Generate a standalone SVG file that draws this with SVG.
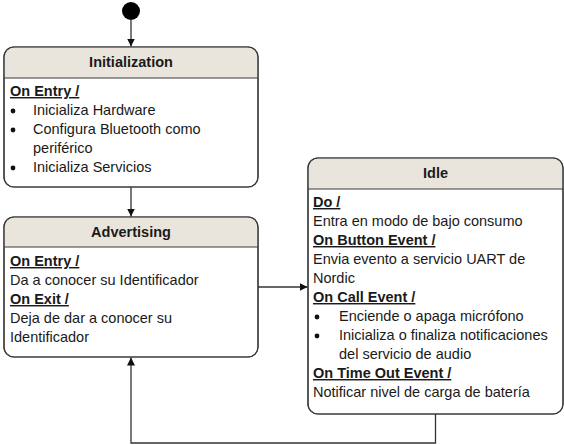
<svg xmlns="http://www.w3.org/2000/svg" width="564" height="445" viewBox="0 0 564 445">
<defs>
<style>
.box{fill:#ffffff;stroke:#3a3a3a;stroke-width:1.2}
.hdr{fill:#EAE5DC;stroke:none}
.sep{stroke:#3a3a3a;stroke-width:1.2}
.t{font-family:"Liberation Sans",Arial,sans-serif;font-size:14.5px;fill:#1a1a1a}
.b{font-weight:bold}
.u{font-weight:bold;text-decoration:underline}
.ttl{font-family:"Liberation Sans",Arial,sans-serif;font-size:14.5px;font-weight:bold;fill:#1a1a1a;text-anchor:middle}
.bul{fill:#111}
.conn{fill:none;stroke:#333;stroke-width:1.3}
</style>
<marker id="arr" viewBox="0 0 10 10" refX="10" refY="5" markerWidth="8" markerHeight="8" markerUnits="userSpaceOnUse" orient="auto">
<path d="M0,0 L10,5 L0,10 Z" fill="#111"/>
</marker>
</defs>

<g id="initial">
<circle cx="131" cy="11" r="9" fill="#000"/>
</g>

<g id="initialization">
<rect class="box" x="4" y="47" width="254" height="140" rx="10"/>
<path class="hdr" d="M4.6,78 V57 A10,10 0 0 1 14,47.6 H248 A10,10 0 0 1 257.4,57 V78 Z"/>
<line class="sep" x1="4" y1="78" x2="258" y2="78"/>
<rect x="4" y="47" width="254" height="140" rx="10" fill="none" stroke="#3a3a3a" stroke-width="1.2"/>
<text class="ttl" x="131" y="67">Initialization</text>
<text class="t u" x="10" y="96">On Entry /</text>
<circle class="bul" cx="13" cy="111" r="2.4"/>
<text class="t" x="33" y="115">Inicializa Hardware</text>
<circle class="bul" cx="13" cy="130" r="2.4"/>
<text class="t" x="33" y="134">Configura Bluetooth como</text>
<text class="t" x="33" y="153">periférico</text>
<circle class="bul" cx="13" cy="168" r="2.4"/>
<text class="t" x="33" y="172">Inicializa Servicios</text>
</g>

<g id="advertising">
<rect class="box" x="4" y="217" width="254" height="140" rx="10"/>
<path class="hdr" d="M4.6,247 V227 A10,10 0 0 1 14,217.6 H248 A10,10 0 0 1 257.4,227 V247 Z"/>
<line class="sep" x1="4" y1="247" x2="258" y2="247"/>
<rect x="4" y="217" width="254" height="140" rx="10" fill="none" stroke="#3a3a3a" stroke-width="1.2"/>
<text class="ttl" x="131" y="236.5">Advertising</text>
<text class="t u" x="10" y="266">On Entry /</text>
<text class="t" x="10" y="285">Da a conocer su Identificador</text>
<text class="t u" x="10" y="304">On Exit /</text>
<text class="t" x="10" y="323">Deja de dar a conocer su</text>
<text class="t" x="10" y="342">Identificador</text>
</g>

<g id="idle">
<rect class="box" x="308" y="158" width="255" height="256" rx="10"/>
<path class="hdr" d="M308.6,189 V168 A10,10 0 0 1 318,158.6 H553 A10,10 0 0 1 562.4,168 V189 Z"/>
<line class="sep" x1="308" y1="189" x2="563" y2="189"/>
<rect x="308" y="158" width="255" height="256" rx="10" fill="none" stroke="#3a3a3a" stroke-width="1.2"/>
<text class="ttl" x="435.5" y="178">Idle</text>
<text class="t u" x="313" y="207">Do /</text>
<text class="t" x="313" y="226">Entra en modo de bajo consumo</text>
<text class="t u" x="313" y="245">On Button Event /</text>
<text class="t" x="313" y="264">Envia evento a servicio UART de</text>
<text class="t" x="313" y="283">Nordic</text>
<text class="t u" x="313" y="302">On Call Event /</text>
<circle class="bul" cx="317" cy="317" r="2.4"/>
<text class="t" x="339" y="321">Enciende o apaga micrófono</text>
<circle class="bul" cx="317" cy="336" r="2.4"/>
<text class="t" x="339" y="340">Inicializa o finaliza notificaciones</text>
<text class="t" x="339" y="359">del servicio de audio</text>
<text class="t u" x="313" y="378">On Time Out Event /</text>
<text class="t" x="313" y="397">Notificar nivel de carga de batería</text>
</g>

<g id="connectors">
<line class="conn" x1="131" y1="20" x2="131" y2="46.5" marker-end="url(#arr)"/>
<line class="conn" x1="131" y1="187" x2="131" y2="216.5" marker-end="url(#arr)"/>
<line class="conn" x1="258" y1="287" x2="307.5" y2="287" marker-end="url(#arr)"/>
<path class="conn" d="M435.5,414 V443 H131 V357.5" marker-end="url(#arr)"/>
</g>
</svg>
